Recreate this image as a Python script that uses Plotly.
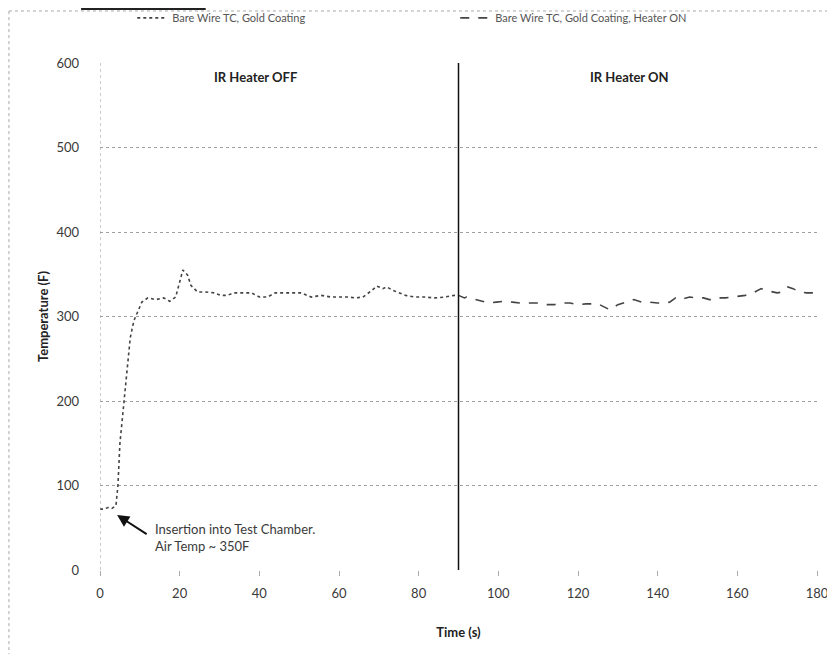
import plotly.graph_objects as go

# Series 1: heater OFF (0-90 s)
t_off = [0, 1, 2, 3, 4, 4.5, 5, 6, 7, 7.6, 8.5, 9.5, 10.5, 12, 14, 16, 17.5, 19, 19.8, 20.3,
         20.8, 22, 22.8, 24.5, 26.6, 28.6, 30.4, 32, 33.5, 35.5, 38, 40, 42, 44, 46, 48, 50.5,
         53, 55.5, 58, 60, 62.5, 64, 66, 68.3, 69.5, 71, 72, 73.5, 75, 76.7, 79, 81.5, 84,
         86.5, 89, 90]
temp_off = [72, 72, 74, 73, 76, 100, 150, 200, 250, 275, 295, 305, 317, 322, 320, 322, 318, 323,
            337, 343, 355, 349, 337, 329, 329, 328, 325, 325, 328, 328, 328, 323, 323, 328, 328,
            328, 328, 323, 325, 323, 323, 323, 322, 323, 331, 336, 333, 335, 331, 328, 325, 323,
            323, 322, 323, 325, 325]

# Series 2: heater ON (90-180 s)
t_on = [90, 91.5, 92, 94.5, 96, 97.5, 99.5, 101.5, 103.5, 105.5, 107.5, 110, 112, 114, 116, 118,
        120, 122, 125, 126.5, 128, 130, 132, 134, 136, 138, 140, 141.5, 143, 144.5, 145.5, 148,
        150, 151.5, 153, 154.5, 155.5, 157, 158.5, 160.5, 162, 164, 166, 167, 169, 170, 171.5,
        172.7, 174, 175.6, 177.4, 179, 180]
temp_on = [325, 322, 323, 320, 318, 316, 317, 318, 317, 316, 316, 316, 314, 314, 316, 316, 314,
           315, 315, 311, 308, 314, 317, 320, 317, 317, 316, 316, 317, 322, 320, 323, 322, 322,
           320, 320, 322, 322, 323, 324, 325, 328, 333, 331, 329, 328, 329, 335, 333, 329, 328,
           328, 330]

series_names = ["Bare Wire TC, Gold Coating", "Bare Wire TC, Gold Coating, Heater ON"]
y_ticks = [0, 100, 200, 300, 400, 500, 600]
x_ticks = [0, 20, 40, 60, 80, 100, 120, 140, 160, 180]
heater_switch = 90

FONT = "Lato, 'Open Sans', sans-serif"
TXT = "#3a3a3a"

fig = go.Figure()
fig.add_trace(go.Scatter(x=t_off, y=temp_off, mode="lines", name=series_names[0],
                         line=dict(color="#444444", width=1.6, dash="dot")))
fig.add_trace(go.Scatter(x=t_on, y=temp_on, mode="lines", name=series_names[1],
                         line=dict(color="#444444", width=1.6, dash="dash")))

# vertical heater switch line
fig.add_shape(type="line", xref="x", yref="y", x0=heater_switch, x1=heater_switch, y0=0, y1=600,
              line=dict(color="#111111", width=1.5))
# left dotted axis line
fig.add_shape(type="line", xref="x", yref="y", x0=0, x1=0, y0=0, y1=600,
              line=dict(color="#9a9a9a", width=1, dash="dot"))
# outer dotted border (top and left edges)
fig.add_shape(type="line", xref="paper", yref="paper", x0=-0.127, x1=1.1, y0=1.1026, y1=1.1026,
              line=dict(color="#a8a8a8", width=1, dash="dot"))
fig.add_shape(type="line", xref="paper", yref="paper", x0=-0.127, x1=-0.127, y0=-0.3, y1=1.1026,
              line=dict(color="#a8a8a8", width=1, dash="dot"))
# partial black box at top-left
fig.add_shape(type="rect", xref="paper", yref="paper", x0=-0.025, x1=0.146, y0=1.1065, y1=1.2,
              line=dict(color="#222222", width=2))

fig.add_annotation(x=39, y=583, xref="x", yref="y", text="<b>IR Heater OFF</b>", showarrow=False,
                   font=dict(family=FONT, size=13, color="#222222"))
fig.add_annotation(x=133, y=583, xref="x", yref="y", text="<b>IR Heater ON</b>", showarrow=False,
                   font=dict(family=FONT, size=13, color="#222222"))
fig.add_annotation(x=4.3, y=65, xref="x", yref="y", ax=31, ay=20, text="", showarrow=True,
                   arrowhead=2, arrowsize=1.2, arrowwidth=2, arrowcolor="#111111")
fig.add_annotation(x=13.3, y=39, xref="x", yref="y", xanchor="left", yanchor="middle", align="left",
                   text="Insertion into Test Chamber.<br>Air Temp ~ 350F", showarrow=False,
                   font=dict(family=FONT, size=13, color=TXT))

# the page body adds an 8px offset; margins compensate for it
fig.update_layout(
    width=835, height=654,
    margin=dict(l=92, r=26, t=55, b=92, autoexpand=False),
    paper_bgcolor="white", plot_bgcolor="white",
    font=dict(family=FONT, size=13, color=TXT),
    showlegend=True,
    legend=dict(orientation="h", x=0.045, xanchor="left", y=1.089, yanchor="middle",
                entrywidth=278, entrywidthmode="pixels", tracegroupgap=0,
                font=dict(family=FONT, size=11, color="#555555"), bgcolor="rgba(0,0,0,0)"),
    xaxis=dict(range=[0, 180], tickvals=x_ticks, showgrid=False, zeroline=False, showline=False,
               ticks="outside", ticklen=5, tickcolor="#aaaaaa", ticklabelstandoff=6,
               tickfont=dict(family=FONT, size=13, color=TXT),
               title=dict(text="<b>Time (s)</b>", font=dict(family=FONT, size=13, color="#222222"),
                          standoff=28)),
    yaxis=dict(range=[0, 600], tickvals=y_ticks, showgrid=True, gridcolor="#a0a0a0", griddash="dot",
               gridwidth=1, zeroline=False, showline=False, ticks="", ticklabelstandoff=20,
               tickfont=dict(family=FONT, size=13, color=TXT),
               title=dict(text="<b>Temperature (F)</b>", font=dict(family=FONT, size=13, color="#222222"),
                          standoff=4)),
)

fig.write_html("out.html")
